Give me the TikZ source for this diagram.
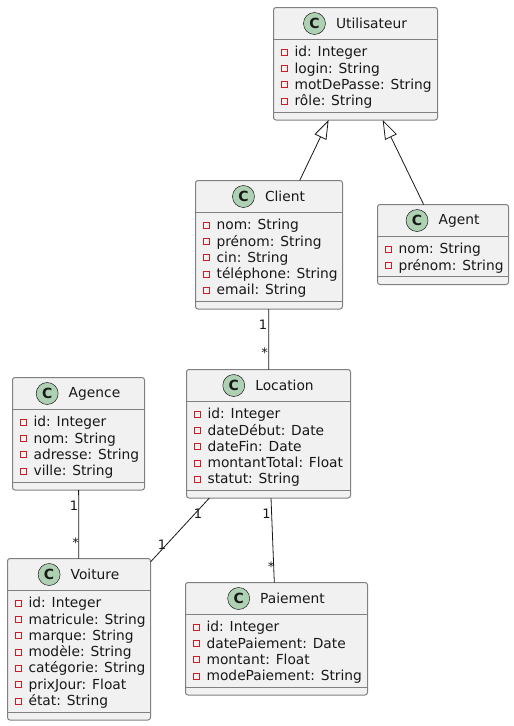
\documentclass[tikz,border=0pt]{standalone}
\usepackage{fontspec}
\setmainfont{DejaVu Sans}
\usetikzlibrary{arrows.meta,positioning}
\definecolor{class_fill}{RGB}{241,241,241}
\definecolor{class_gray}{RGB}{128,128,128}
\definecolor{circle_green}{RGB}{173,209,178}
\definecolor{attr_red}{RGB}{200,30,40}
\definecolor{edge_dark}{RGB}{24,24,24}

% name, left, top, width, height, title, attributes
\newcommand{\umlclass}[7]{
    \node[classbox, minimum width=#4pt, minimum height=#5pt] (#1) at (#2,#3) {};
    \draw[classline] ([yshift=-32pt]#1.north west) -- ([yshift=-32pt]#1.north east);
    \draw[classline] ([yshift=8pt]#1.south west) -- ([yshift=8pt]#1.south east);
    \node[classtitle] (#1-title) at ([xshift=16pt,yshift=-16pt]#1.north) {#6};
    \node[classicon, left=10pt of #1-title] (#1-icon) {\textbf{C}};
    \foreach \attr [count=\i] in {#7} {
        \pgfmathsetmacro{\ypos}{49.2+16.3*(\i-1)}
        \node[attrtext] (#1-attr\i) at ([shift={(20.8,\ypos)}]#1.north west) {\attr};
        \node[attrmark] (#1-mark\i) at ([shift={(11,\ypos-4.5)}]#1.north west) {};
    }
}

\begin{document}
\begin{tikzpicture}[x=1pt,y=-1pt,semithick]
    \tikzstyle{classbox}=[draw=class_gray, fill=class_fill, line width=1pt, rounded corners=2.5pt, inner sep=0pt, outer sep=0pt, anchor=north west]
    \tikzstyle{classline}=[draw=class_gray, line width=1pt]
    \tikzstyle{classtitle}=[font=\fontsize{13.8}{16}\selectfont, text=edge_dark, inner sep=0pt]
    \tikzstyle{classicon}=[draw=edge_dark, fill=circle_green, circle, line width=0.5pt, minimum size=22pt, inner sep=0pt, font=\fontsize{14}{16}\selectfont, text=edge_dark]
    \tikzstyle{attrtext}=[font=\fontsize{13.8}{16}\selectfont, text=edge_dark, inner sep=0pt, anchor=base west]
    \tikzstyle{attrmark}=[draw=attr_red, line width=1pt, minimum size=6pt, inner sep=0pt]
    \tikzstyle{multi}=[font=\fontsize{13}{15}\selectfont, text=edge_dark, inner sep=0pt]
    \tikzstyle{assoc}=[draw=edge_dark, line width=0.8pt]
    \tikzstyle{extends}=[draw=edge_dark, line width=0.8pt, -{Triangle[open, length=19pt, width=13pt, fill=white]}]

    \useasboundingbox (0,0) rectangle (514,726);

    \umlclass{utilisateur}{273.5}{7.5}{164}{112.5}{Utilisateur}{id: Integer, login: String, motDePasse: String, rôle: String}
    \umlclass{client}{195.5}{180.5}{147}{128.5}{Client}{nom: String, prénom: String, cin: String, téléphone: String, email: String}
    \umlclass{agent}{377.5}{204.5}{131}{80}{Agent}{nom: String, prénom: String}
    \umlclass{agence}{12.5}{377.5}{132}{112.5}{Agence}{id: Integer, nom: String, adresse: String, ville: String}
    \umlclass{location}{186.5}{369.5}{164}{128.5}{Location}{id: Integer, dateDébut: Date, dateFin: Date, montantTotal: Float, statut: String}
    \umlclass{voiture}{7.5}{558.5}{143}{161.5}{Voiture}{id: Integer, matricule: String, marque: String, modèle: String, catégorie: String, prixJour: Float, état: String}
    \umlclass{paiement}{185.5}{582.5}{182}{112.5}{Paiement}{id: Integer, datePaiement: Date, montant: Float, modePaiement: String}

    \path
     (client) edge[extends] (utilisateur)
     (agent) edge[extends] (utilisateur)
     (client) edge[assoc] (location)
     (agence) edge[assoc] (voiture)
     (location) edge[assoc] (voiture)
     (location) edge[assoc] (paiement)
     ;

    \node[multi] (m1) at (263,325) {1};
    \node[multi] (m2) at (264.5,353) {*};
    \node[multi] (m3) at (74,505.5) {1};
    \node[multi] (m4) at (75.5,543) {*};
    \node[multi] (m5) at (198,513.5) {1};
    \node[multi] (m6) at (162,544.5) {1};
    \node[multi] (m7) at (266.5,513.5) {1};
    \node[multi] (m8) at (271,566.5) {*};
\end{tikzpicture}
\end{document}
